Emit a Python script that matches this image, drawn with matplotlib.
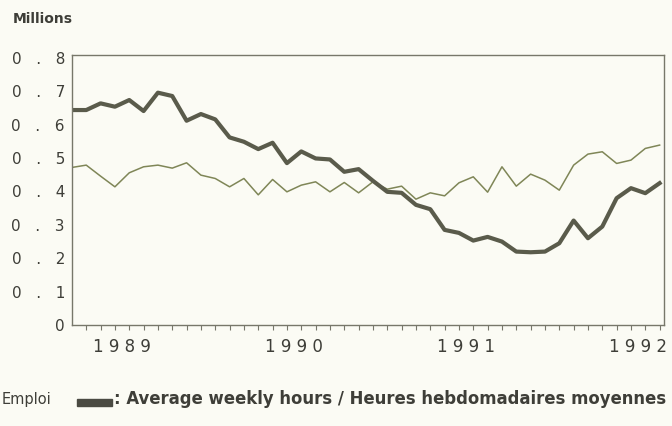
import matplotlib

matplotlib.use("Agg")
import matplotlib.pyplot as plt

# monthly points, Sep 1988 .. Feb 1992 (index 0 = first month)
months = list(range(42))
hours = [0.644, 0.644, 0.664, 0.654, 0.674, 0.641, 0.696, 0.686, 0.612, 0.632,
         0.616, 0.562, 0.549, 0.527, 0.546, 0.485, 0.520, 0.499, 0.496, 0.459,
         0.467, 0.432, 0.399, 0.396, 0.360, 0.347, 0.285, 0.276, 0.253, 0.264,
         0.250, 0.220, 0.218, 0.220, 0.245, 0.313, 0.260, 0.295, 0.380, 0.410,
         0.395, 0.425]
emploi = [0.472, 0.479, 0.446, 0.414, 0.456, 0.474, 0.479, 0.470, 0.486, 0.449,
          0.439, 0.414, 0.439, 0.390, 0.436, 0.399, 0.419, 0.429, 0.399, 0.427,
          0.396, 0.429, 0.407, 0.416, 0.377, 0.396, 0.387, 0.426, 0.444, 0.398,
          0.474, 0.416, 0.452, 0.434, 0.404, 0.479, 0.512, 0.519, 0.484, 0.494,
          0.529, 0.539]
y_ticks = [0, 0.1, 0.2, 0.3, 0.4, 0.5, 0.6, 0.7, 0.8]
y_labels = ["0", "0   .   1", "0   .   2", "0   .   3", "0   .   4",
            "0   .   5", "0   .   6", "0   .   7", "0   .   8"]
year_pos = [3.5, 15.5, 27.5, 39.5]
year_labels = ["1 9 8 9", "1 9 9 0", "1 9 9 1", "1 9 9 2"]

BG = "#fbfbf4"
AX = "#77776a"
TXT = "#3e3e38"

fig = plt.figure(figsize=(6.72, 4.26), dpi=100, facecolor=BG)
ax = fig.add_axes([0.107, 0.237, 0.881, 0.634], facecolor=BG)

ax.plot(months, emploi, color="#7f8657", lw=1.1, solid_joinstyle="round")
ax.plot(months, hours, color="#5a5b4b", lw=3.0, solid_joinstyle="round")

ax.set_xlim(0, 41.3)
ax.set_ylim(0, 0.809)
ax.set_yticks(y_ticks, y_labels)
ax.tick_params(axis="y", length=0, pad=5, labelsize=11, labelcolor=TXT)
ax.set_xticks(range(1, 42))
ax.set_xticklabels([])
ax.tick_params(axis="x", direction="out", length=3.5, width=0.8, color=AX)
for y, lab in zip(year_pos, year_labels):
    ax.text(y, -0.066, lab, ha="center", va="center", fontsize=12, color=TXT)
for s in ax.spines.values():
    s.set_color(AX)
    s.set_linewidth(1.0)

fig.text(0.019, 0.955, "Millions", fontsize=10, fontweight="bold", color=TXT,
         va="center")
fig.text(0.002, 0.063, "Emploi", fontsize=10.5, color=TXT, va="center")
fig.patches.append(plt.Rectangle((0.115, 0.046), 0.052, 0.017, color="#4a4a42",
                                 transform=fig.transFigure))
fig.text(0.170, 0.063, ": Average weekly hours / Heures hebdomadaires moyennes",
         fontsize=11.9, fontweight="bold", color=TXT, va="center")

fig.savefig("out.png", dpi=100, facecolor=BG)
